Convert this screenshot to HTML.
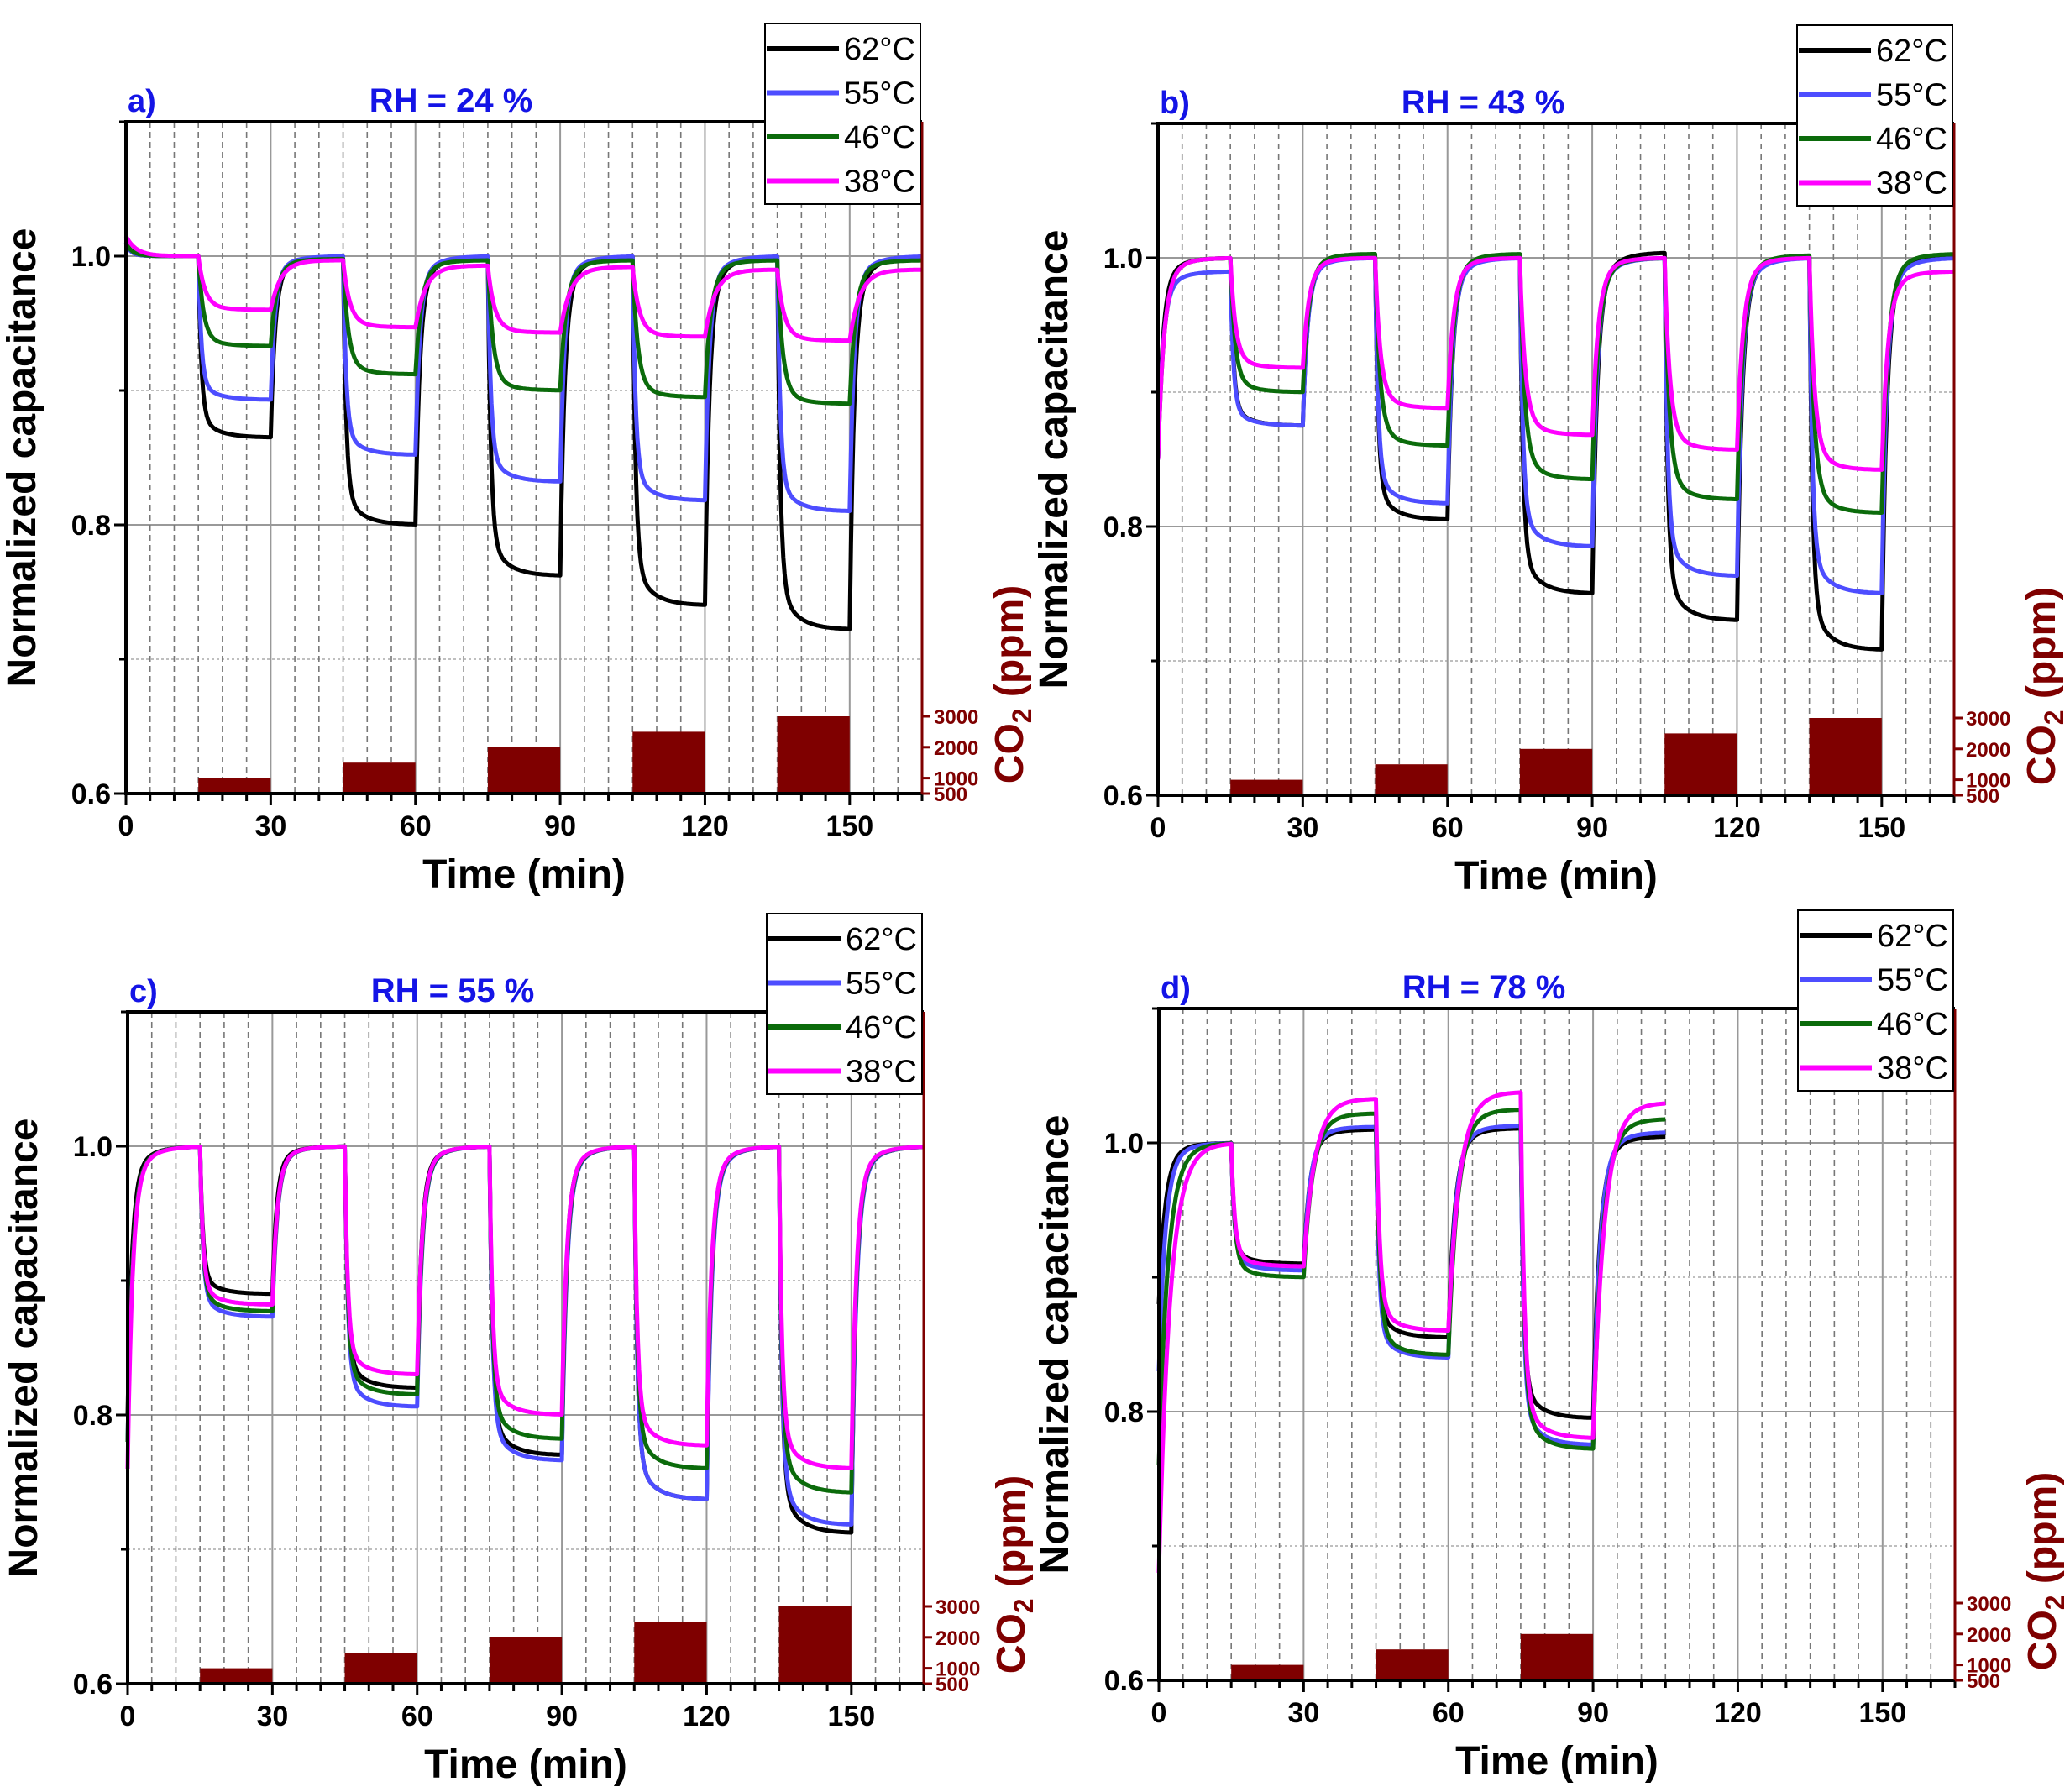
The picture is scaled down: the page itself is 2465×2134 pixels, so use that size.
<!DOCTYPE html>
<html><head><meta charset="utf-8">
<style>
html,body{margin:0;padding:0;background:#fff;}
svg text{font-family:"Liberation Sans",Arial,sans-serif;}
</style></head>
<body>
<svg id="s" xmlns="http://www.w3.org/2000/svg" width="2465" height="2129" viewBox="0 0 2465 2129"></svg>
<script>
const S=document.getElementById('s');
let out='<rect width="2465" height="2129" fill="#fff"/>';
const W=948,H=800,RED='#7f0000',BLUE='#1414e6';
const COLS=['#000000','#4d4dff','#0b6b0b','#ff00ff'];
const NAMES=['62°C','55°C','46°C','38°C'];
function gen(start,segs,tEnd,tauD,tauR,slow,sw){
  let pts=[];let v=start;
  const timeline=[];
  let prev=0;
  segs.forEach(s=>{timeline.push([prev,s[0],s[3]!==undefined?s[3]:1.0,tauR]);timeline.push([s[0],s[1],s[2],tauD]);prev=s[1];});
  timeline.push([prev,tEnd,segs.finalLevel!==undefined?segs.finalLevel:1.0,tauR]);
  timeline.forEach(([a,b,L,tau])=>{
    const v0=v;
    for(let tt=a;tt<=b+1e-9;tt+=0.25){
      const d=tt-a;
      const fast=Math.exp(-d/tau);
      const sl=Math.exp(-d/slow);
      const val=L+(v0-L)*((1-sw)*fast+sw*sl);
      pts.push([tt,val]);v=val;
    }
  });
  return pts;
}
function panel(ox,oy,tag,rh,series,tEnd,nb){
  const X=t=>ox+t/165*W, Y=v=>oy+(1.1-v)/0.5*H;
  let s='';
  [0.7,0.9].forEach(v=>s+=`<line x1="${ox}" x2="${ox+W}" y1="${Y(v)}" y2="${Y(v)}" stroke="#aaa" stroke-width="1.5" stroke-dasharray="3 3"/>`);
  [0.8,1.0].forEach(v=>s+=`<line x1="${ox}" x2="${ox+W}" y1="${Y(v)}" y2="${Y(v)}" stroke="#999" stroke-width="2"/>`);
  for(let t=5;t<165;t+=5){
    if(t%30==0) s+=`<line x1="${X(t)}" x2="${X(t)}" y1="${oy}" y2="${oy+H}" stroke="#999" stroke-width="2"/>`;
    else s+=`<line x1="${X(t)}" x2="${X(t)}" y1="${oy}" y2="${oy+H}" stroke="#777" stroke-width="1.6" stroke-dasharray="7 5"/>`;
  }
  const py=p=>oy+H-(p-500)*0.0368;
  const ppm=[1000,1500,2000,2500,3000];
  for(let i=0;i<nb;i++){const a=15+30*i;s+=`<rect x="${X(a)}" y="${py(ppm[i])}" width="${X(a+15)-X(a)}" height="${oy+H-py(ppm[i])}" fill="${RED}"/>`;}
  series.forEach((pts,i)=>{
    let d='M'+pts.map(p=>X(p[0]).toFixed(1)+','+Y(p[1]).toFixed(1)).join('L');
    s+=`<path d="${d}" fill="none" stroke="${COLS[i]}" stroke-width="5" stroke-linejoin="round"/>`;
  });
  s+=`<line x1="${ox}" x2="${ox+W}" y1="${oy}" y2="${oy}" stroke="#000" stroke-width="4"/>`;
  s+=`<line x1="${ox}" x2="${ox+W}" y1="${oy+H}" y2="${oy+H}" stroke="#000" stroke-width="4"/>`;
  s+=`<line x1="${ox}" x2="${ox}" y1="${oy-2}" y2="${oy+H+2}" stroke="#000" stroke-width="4"/>`;
  s+=`<line x1="${ox+W}" x2="${ox+W}" y1="${oy}" y2="${oy+H+2}" stroke="${RED}" stroke-width="3"/>`;
  for(let t=0;t<=165;t+=5){const L=t%30==0?14:9;s+=`<line x1="${X(t)}" x2="${X(t)}" y1="${oy+H}" y2="${oy+H+L}" stroke="#000" stroke-width="3"/>`;}
  [0.6,0.7,0.8,0.9,1.0,1.1].forEach(v=>{const L=(Math.round(v*10)%2==0)?14:8;s+=`<line x1="${ox-L}" x2="${ox}" y1="${Y(v)}" y2="${Y(v)}" stroke="#000" stroke-width="3"/>`;});
  [500,1000,2000,3000].forEach(p=>s+=`<line x1="${ox+W}" x2="${ox+W+10}" y1="${py(p)}" y2="${py(p)}" stroke="${RED}" stroke-width="3"/>`);
  [[0.6,'0.6'],[0.8,'0.8'],[1.0,'1.0']].forEach(([v,l])=>s+=`<text x="${ox-18}" y="${Y(v)+12}" font-size="34" font-weight="bold" text-anchor="end">${l}</text>`);
  for(let t=0;t<=150;t+=30) s+=`<text x="${X(t)}" y="${oy+H+50}" font-size="34" font-weight="bold" text-anchor="middle">${t}</text>`;
  s+=`<text x="${ox+W/2}" y="${oy+H+112}" font-size="48" font-weight="bold" text-anchor="middle">Time (min)</text>`;
  s+=`<text transform="translate(${ox-108},${oy+400}) rotate(-90)" font-size="48" font-weight="bold" text-anchor="middle">Normalized capacitance</text>`;
  [[3000,'3000'],[2000,'2000'],[1000,'1000'],[500,'500']].forEach(([p,l])=>s+=`<text x="${ox+W+14}" y="${py(p)+9}" font-size="24" font-weight="bold" fill="${RED}">${l}</text>`);
  s+=`<text transform="translate(${ox+W+120},${oy+670}) rotate(-90)" font-size="48" font-weight="bold" fill="${RED}" text-anchor="middle">CO<tspan font-size="32" dy="10">2</tspan><tspan dy="-10"> (ppm)</tspan></text>`;
  s+=`<text x="${ox+2}" y="${oy-12}" font-size="38" font-weight="bold" fill="${BLUE}">${tag}</text>`;
  s+=`<text x="${ox+387}" y="${oy-12}" font-size="40" font-weight="bold" fill="${BLUE}" text-anchor="middle">${rh}</text>`;
  const lx=ox+W-187,ly=oy-117;
  s+=`<rect x="${lx}" y="${ly}" width="185" height="215" fill="#fff" stroke="#000" stroke-width="2"/>`;
  NAMES.forEach((n,i)=>{const cy=ly+30+i*52.5;s+=`<line x1="${lx+2}" x2="${lx+88}" y1="${cy}" y2="${cy}" stroke="${COLS[i]}" stroke-width="6"/><text x="${lx+94}" y="${cy+13}" font-size="38">${n}</text>`;});
  return s;
}
function mk(start,levels,tEnd,tauD,tauR,rec,fin){
  const segs=levels.map((L,i)=>[15+30*i,30+30*i,L,rec?rec[i]:undefined]);
  if(fin!==undefined) segs.finalLevel=fin;
  return gen(start,segs,tEnd,tauD,tauR,3.5,0.12);
}
const A=[
 mk(1.01,[0.865,0.80,0.762,0.74,0.722],165,0.6,0.9),
 mk(1.01,[0.893,0.852,0.832,0.818,0.81],165,0.6,0.9),
 mk(1.01,[0.933,0.912,0.90,0.895,0.89],165,1.0,1.2,[1,0.998,0.997,0.997,0.997],0.997),
 mk(1.015,[0.96,0.947,0.943,0.94,0.937],165,1.3,2.0,[1,0.997,0.993,0.992,0.99],0.99)];
out+=panel(150,145,'a)','RH = 24 %',A,165,5);
const B=[
 mk(0.85,[0.875,0.805,0.75,0.73,0.708],165,0.6,1.0,[1,1.002,1.002,1.004,1.002],1.003),
 mk(0.85,[0.875,0.817,0.785,0.763,0.75],165,0.6,1.0,[0.99,1.0,1.0,1.0,1.0],1.0),
 mk(0.85,[0.9,0.86,0.835,0.82,0.81],165,0.9,1.2,[1,1.003,1.003,1.0,1.002],1.003),
 mk(0.85,[0.918,0.888,0.868,0.857,0.842],165,1.0,1.2,[1,1.0,1.0,1.0,1.0],0.99)];
out+=panel(1379,147,'b)','RH = 43 %',B,165,5);
const C=[
 mk(0.8,[0.89,0.82,0.77,0.737,0.712],165,0.6,0.9),
 mk(0.78,[0.873,0.806,0.766,0.737,0.718],165,0.6,1.0),
 mk(0.78,[0.877,0.815,0.782,0.76,0.742],165,0.6,1.0),
 mk(0.76,[0.882,0.83,0.8,0.777,0.76],165,0.6,1.0)];
out+=panel(152,1205,'c)','RH = 55 %',C,165,5);
const D=[
 mk(0.88,[0.91,0.855,0.795],105,0.6,1.3,[1.0,1.01,1.011],1.005),
 mk(0.83,[0.905,0.84,0.775],105,0.6,1.3,[1.0,1.012,1.013],1.008),
 mk(0.76,[0.9,0.842,0.772],105,0.7,1.8,[1.0,1.022,1.025],1.018),
 mk(0.68,[0.908,0.86,0.78],105,0.7,2.2,[1.0,1.033,1.038],1.03)];
out+=panel(1380,1201,'d)','RH = 78 %',D,105,3);
S.innerHTML=out;
</script>
</body></html>
